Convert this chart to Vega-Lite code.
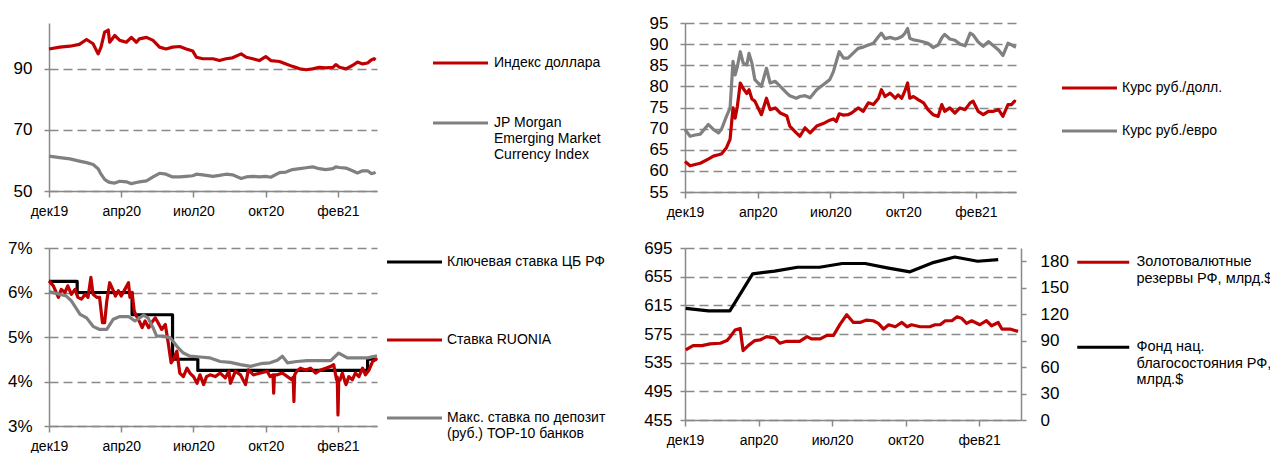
{
  "$schema": "https://vega.github.io/schema/vega-lite/v6.json",
  "background": "white",
  "padding": {"left": 7, "top": 14, "right": 0, "bottom": 0},
  "columns": 2,
  "spacing": {"row": 56, "column": 308},
  "bounds": "flush",
  "resolve": {"scale": {"x": "independent", "y": "independent", "color": "independent"}, "legend": {"color": "independent"}},
  "config": {
    "font": "Liberation Sans",
    "view": {"stroke": null},
    "axis": {"title": null, "domainColor": "#898989", "domainWidth": 1.5, "tickColor": "#898989", "tickWidth": 1.5, "labelColor": "#000000", "labelFont": "Liberation Sans", "gridColor": "#898989", "gridDash": [9, 5], "gridWidth": 1.5, "labelOverlap": false},
    "axisX": {"labelFontSize": 14, "tickSize": 6, "labelPadding": 7, "grid": false, "labelFlush": false},
    "axisY": {"labelFontSize": 17, "tickSize": 5, "labelPadding": 12, "grid": true, "tickCount": 20},
    "legend": {"title": null, "orient": "none", "direction": "vertical", "labelFont": "Liberation Sans", "labelFontSize": 14, "labelColor": "#000000", "labelBaseline": "top", "labelLimit": 400, "symbolSize": 100, "symbolStrokeWidth": 3.5, "padding": 0},
    "line": {"strokeWidth": 3.2, "strokeJoin": "round"}
  },
  "datasets": {
    "key": [
      {"d": "2019-12-31", "v": 6.25}, {"d": "2020-02-08", "v": 6.0}, {"d": "2020-04-24", "v": 5.5}, {"d": "2020-06-19", "v": 4.5}, {"d": "2020-07-24", "v": 4.25}, {"d": "2021-03-16", "v": 4.5}, {"d": "2021-03-29", "v": 4.5}
    ],
    "ruonia": [
      {"d": "2019-12-31", "v": 6.26}, {"d": "2020-01-06", "v": 6.15}, {"d": "2020-01-13", "v": 5.89}, {"d": "2020-01-17", "v": 6.07}, {"d": "2020-01-22", "v": 6.0}, {"d": "2020-01-26", "v": 6.15}, {"d": "2020-01-31", "v": 5.96}, {"d": "2020-02-05", "v": 6.07}, {"d": "2020-02-09", "v": 5.89}, {"d": "2020-02-14", "v": 5.85}, {"d": "2020-02-19", "v": 5.96}, {"d": "2020-02-23", "v": 5.89}, {"d": "2020-02-27", "v": 6.34}, {"d": "2020-03-01", "v": 5.96}, {"d": "2020-03-06", "v": 5.89}, {"d": "2020-03-10", "v": 5.89}, {"d": "2020-03-14", "v": 5.32}, {"d": "2020-03-17", "v": 5.32}, {"d": "2020-03-20", "v": 5.81}, {"d": "2020-03-24", "v": 6.22}, {"d": "2020-03-29", "v": 6.04}, {"d": "2020-04-01", "v": 5.92}, {"d": "2020-04-05", "v": 6.04}, {"d": "2020-04-09", "v": 5.92}, {"d": "2020-04-14", "v": 6.07}, {"d": "2020-04-19", "v": 6.22}, {"d": "2020-04-21", "v": 5.89}, {"d": "2020-04-24", "v": 6.0}, {"d": "2020-04-27", "v": 5.58}, {"d": "2020-04-30", "v": 5.47}, {"d": "2020-05-05", "v": 5.32}, {"d": "2020-05-08", "v": 5.21}, {"d": "2020-05-12", "v": 5.36}, {"d": "2020-05-17", "v": 5.21}, {"d": "2020-05-21", "v": 5.32}, {"d": "2020-05-26", "v": 5.43}, {"d": "2020-05-30", "v": 5.32}, {"d": "2020-06-04", "v": 5.17}, {"d": "2020-06-09", "v": 5.28}, {"d": "2020-06-13", "v": 4.87}, {"d": "2020-06-17", "v": 4.42}, {"d": "2020-06-20", "v": 4.49}, {"d": "2020-06-25", "v": 4.68}, {"d": "2020-06-29", "v": 4.19}, {"d": "2020-07-04", "v": 4.11}, {"d": "2020-07-09", "v": 4.3}, {"d": "2020-07-13", "v": 4.19}, {"d": "2020-07-18", "v": 4.11}, {"d": "2020-07-23", "v": 3.96}, {"d": "2020-07-27", "v": 4.15}, {"d": "2020-08-01", "v": 3.93}, {"d": "2020-08-05", "v": 4.11}, {"d": "2020-08-10", "v": 4.15}, {"d": "2020-08-17", "v": 4.11}, {"d": "2020-08-24", "v": 4.19}, {"d": "2020-08-31", "v": 4.08}, {"d": "2020-09-05", "v": 4.23}, {"d": "2020-09-07", "v": 3.96}, {"d": "2020-09-14", "v": 4.23}, {"d": "2020-09-21", "v": 4.15}, {"d": "2020-09-28", "v": 3.93}, {"d": "2020-10-02", "v": 4.26}, {"d": "2020-10-09", "v": 4.15}, {"d": "2020-10-19", "v": 4.19}, {"d": "2020-10-28", "v": 4.23}, {"d": "2020-11-01", "v": 4.11}, {"d": "2020-11-05", "v": 4.15}, {"d": "2020-11-06", "v": 3.74}, {"d": "2020-11-07", "v": 4.15}, {"d": "2020-11-11", "v": 4.15}, {"d": "2020-11-18", "v": 4.19}, {"d": "2020-11-25", "v": 4.11}, {"d": "2020-12-01", "v": 4.04}, {"d": "2020-12-03", "v": 4.1}, {"d": "2020-12-04", "v": 3.55}, {"d": "2020-12-05", "v": 4.15}, {"d": "2020-12-08", "v": 4.23}, {"d": "2020-12-13", "v": 4.3}, {"d": "2020-12-20", "v": 4.26}, {"d": "2020-12-27", "v": 4.3}, {"d": "2021-01-03", "v": 4.19}, {"d": "2021-01-10", "v": 4.26}, {"d": "2021-01-17", "v": 4.3}, {"d": "2021-01-24", "v": 4.34}, {"d": "2021-01-28", "v": 4.38}, {"d": "2021-02-01", "v": 4.04}, {"d": "2021-02-02", "v": 4.1}, {"d": "2021-02-03", "v": 3.25}, {"d": "2021-02-04", "v": 4.0}, {"d": "2021-02-06", "v": 4.04}, {"d": "2021-02-09", "v": 4.19}, {"d": "2021-02-14", "v": 3.93}, {"d": "2021-02-18", "v": 4.11}, {"d": "2021-02-23", "v": 4.04}, {"d": "2021-02-27", "v": 4.19}, {"d": "2021-03-04", "v": 4.11}, {"d": "2021-03-09", "v": 4.3}, {"d": "2021-03-13", "v": 4.15}, {"d": "2021-03-18", "v": 4.26}, {"d": "2021-03-23", "v": 4.45}, {"d": "2021-03-27", "v": 4.49}, {"d": "2021-03-29", "v": 4.53}
    ],
    "dep": [
      {"d": "2019-12-31", "v": 6.02}, {"d": "2020-01-10", "v": 5.98}, {"d": "2020-01-24", "v": 5.92}, {"d": "2020-01-31", "v": 5.81}, {"d": "2020-02-12", "v": 5.51}, {"d": "2020-02-21", "v": 5.43}, {"d": "2020-03-01", "v": 5.24}, {"d": "2020-03-10", "v": 5.17}, {"d": "2020-03-20", "v": 5.17}, {"d": "2020-03-29", "v": 5.4}, {"d": "2020-04-07", "v": 5.46}, {"d": "2020-04-19", "v": 5.46}, {"d": "2020-04-28", "v": 5.36}, {"d": "2020-05-10", "v": 5.49}, {"d": "2020-05-16", "v": 5.43}, {"d": "2020-05-23", "v": 5.21}, {"d": "2020-05-28", "v": 5.02}, {"d": "2020-06-06", "v": 5.02}, {"d": "2020-06-16", "v": 4.98}, {"d": "2020-06-25", "v": 4.79}, {"d": "2020-07-04", "v": 4.64}, {"d": "2020-07-13", "v": 4.57}, {"d": "2020-07-27", "v": 4.55}, {"d": "2020-08-10", "v": 4.53}, {"d": "2020-08-24", "v": 4.45}, {"d": "2020-09-07", "v": 4.43}, {"d": "2020-09-21", "v": 4.38}, {"d": "2020-10-05", "v": 4.34}, {"d": "2020-10-19", "v": 4.4}, {"d": "2020-11-01", "v": 4.42}, {"d": "2020-11-11", "v": 4.48}, {"d": "2020-11-18", "v": 4.57}, {"d": "2020-11-25", "v": 4.42}, {"d": "2020-12-08", "v": 4.45}, {"d": "2020-12-22", "v": 4.47}, {"d": "2021-01-05", "v": 4.47}, {"d": "2021-01-24", "v": 4.47}, {"d": "2021-02-04", "v": 4.64}, {"d": "2021-02-16", "v": 4.53}, {"d": "2021-03-02", "v": 4.53}, {"d": "2021-03-16", "v": 4.53}, {"d": "2021-03-29", "v": 4.58}
    ],
    "res": [
      {"d": "2020-01-01", "v": 552.8}, {"d": "2020-01-11", "v": 558.8}, {"d": "2020-01-23", "v": 558.8}, {"d": "2020-02-03", "v": 561.2}, {"d": "2020-02-17", "v": 562.1}, {"d": "2020-02-26", "v": 565.8}, {"d": "2020-03-01", "v": 570.4}, {"d": "2020-03-08", "v": 580.5}, {"d": "2020-03-15", "v": 582.8}, {"d": "2020-03-19", "v": 551.9}, {"d": "2020-03-26", "v": 558.8}, {"d": "2020-04-04", "v": 565.8}, {"d": "2020-04-11", "v": 566.7}, {"d": "2020-04-20", "v": 571.3}, {"d": "2020-05-01", "v": 569.5}, {"d": "2020-05-08", "v": 562.1}, {"d": "2020-05-17", "v": 564.8}, {"d": "2020-06-04", "v": 564.8}, {"d": "2020-06-14", "v": 571.3}, {"d": "2020-06-20", "v": 568.1}, {"d": "2020-07-02", "v": 568.1}, {"d": "2020-07-11", "v": 573.1}, {"d": "2020-07-20", "v": 573.1}, {"d": "2020-07-29", "v": 588.8}, {"d": "2020-08-07", "v": 601.8}, {"d": "2020-08-16", "v": 591.1}, {"d": "2020-08-25", "v": 591.1}, {"d": "2020-09-03", "v": 594.4}, {"d": "2020-09-12", "v": 593.5}, {"d": "2020-09-19", "v": 589.8}, {"d": "2020-09-26", "v": 581.9}, {"d": "2020-10-03", "v": 587.9}, {"d": "2020-10-12", "v": 585.1}, {"d": "2020-10-21", "v": 591.1}, {"d": "2020-10-28", "v": 585.1}, {"d": "2020-11-03", "v": 587.9}, {"d": "2020-11-15", "v": 585.1}, {"d": "2020-11-28", "v": 585.1}, {"d": "2020-12-05", "v": 587.9}, {"d": "2020-12-12", "v": 587.9}, {"d": "2020-12-19", "v": 593.5}, {"d": "2020-12-28", "v": 593.5}, {"d": "2021-01-04", "v": 599.0}, {"d": "2021-01-10", "v": 597.1}, {"d": "2021-01-17", "v": 589.8}, {"d": "2021-01-24", "v": 593.5}, {"d": "2021-02-04", "v": 587.9}, {"d": "2021-02-13", "v": 593.5}, {"d": "2021-02-20", "v": 586.5}, {"d": "2021-03-01", "v": 591.1}, {"d": "2021-03-06", "v": 581.9}, {"d": "2021-03-17", "v": 581.9}, {"d": "2021-03-28", "v": 578.7}
    ],
    "fnb": [
      {"d": "2020-01-01", "v": 126.5}, {"d": "2020-02-01", "v": 123.7}, {"d": "2020-03-01", "v": 123.7}, {"d": "2020-04-01", "v": 165.7}, {"d": "2020-05-01", "v": 168.7}, {"d": "2020-06-01", "v": 173.2}, {"d": "2020-07-01", "v": 173.2}, {"d": "2020-08-01", "v": 177.4}, {"d": "2020-09-01", "v": 177.4}, {"d": "2020-10-01", "v": 172.5}, {"d": "2020-11-01", "v": 168.0}, {"d": "2020-12-01", "v": 178.1}, {"d": "2021-01-01", "v": 184.8}, {"d": "2021-02-01", "v": 180.0}, {"d": "2021-03-01", "v": 181.9}
    ]
  },
  "concat": [
    {
      "width": 328, "height": 168,
      "data": {"values": [
        {"d": "2019-12-31", "usd": 96.5, "em": 61.4}, {"d": "2020-01-15", "usd": 97.1, "em": 60.9}, {"d": "2020-01-29", "usd": 97.4, "em": 60.5}, {"d": "2020-02-11", "usd": 98.0, "em": 59.8}, {"d": "2020-02-21", "usd": 99.6, "em": 59.3}, {"d": "2020-03-01", "usd": 98.2, "em": 58.7}, {"d": "2020-03-08", "usd": 94.9, "em": 57.3}, {"d": "2020-03-12", "usd": 97.1, "em": 55.5}, {"d": "2020-03-17", "usd": 102.0, "em": 53.8}, {"d": "2020-03-22", "usd": 102.7, "em": 53.0}, {"d": "2020-03-24", "usd": 98.7, "em": 52.8}, {"d": "2020-03-31", "usd": 100.9, "em": 52.6}, {"d": "2020-04-07", "usd": 99.3, "em": 53.2}, {"d": "2020-04-16", "usd": 98.7, "em": 53.0}, {"d": "2020-04-23", "usd": 100.3, "em": 52.4}, {"d": "2020-04-30", "usd": 98.7, "em": 52.8}, {"d": "2020-05-04", "usd": 99.8, "em": 53.0}, {"d": "2020-05-14", "usd": 100.3, "em": 53.3}, {"d": "2020-05-23", "usd": 99.3, "em": 54.6}, {"d": "2020-06-01", "usd": 97.1, "em": 55.8}, {"d": "2020-06-10", "usd": 96.5, "em": 55.5}, {"d": "2020-06-19", "usd": 97.1, "em": 54.6}, {"d": "2020-06-29", "usd": 97.3, "em": 54.6}, {"d": "2020-07-08", "usd": 96.5, "em": 54.8}, {"d": "2020-07-17", "usd": 95.8, "em": 55.0}, {"d": "2020-07-22", "usd": 93.8, "em": 55.5}, {"d": "2020-07-31", "usd": 93.3, "em": 55.3}, {"d": "2020-08-14", "usd": 93.3, "em": 54.8}, {"d": "2020-08-23", "usd": 92.7, "em": 55.1}, {"d": "2020-09-01", "usd": 93.3, "em": 55.5}, {"d": "2020-09-10", "usd": 93.6, "em": 55.3}, {"d": "2020-09-22", "usd": 94.9, "em": 54.1}, {"d": "2020-09-29", "usd": 93.8, "em": 54.6}, {"d": "2020-10-08", "usd": 93.3, "em": 54.8}, {"d": "2020-10-17", "usd": 92.7, "em": 54.6}, {"d": "2020-10-26", "usd": 94.0, "em": 54.8}, {"d": "2020-11-02", "usd": 92.7, "em": 54.5}, {"d": "2020-11-14", "usd": 92.4, "em": 56.0}, {"d": "2020-11-23", "usd": 91.6, "em": 56.2}, {"d": "2020-12-02", "usd": 90.8, "em": 57.0}, {"d": "2020-12-12", "usd": 90.0, "em": 57.3}, {"d": "2020-12-21", "usd": 89.7, "em": 57.6}, {"d": "2020-12-30", "usd": 90.0, "em": 57.9}, {"d": "2021-01-08", "usd": 90.5, "em": 57.3}, {"d": "2021-01-17", "usd": 90.3, "em": 57.0}, {"d": "2021-01-27", "usd": 90.5, "em": 57.3}, {"d": "2021-01-31", "usd": 91.4, "em": 57.9}, {"d": "2021-02-05", "usd": 90.5, "em": 57.7}, {"d": "2021-02-14", "usd": 90.0, "em": 57.5}, {"d": "2021-02-23", "usd": 91.1, "em": 56.6}, {"d": "2021-03-02", "usd": 92.2, "em": 55.9}, {"d": "2021-03-09", "usd": 91.6, "em": 56.6}, {"d": "2021-03-16", "usd": 91.9, "em": 56.6}, {"d": "2021-03-21", "usd": 92.9, "em": 55.7}, {"d": "2021-03-25", "usd": 93.3, "em": 55.9}, {"d": "2021-03-27", "usd": 92.9, "em": 56.2}
      ]},
      "encoding": {
        "x": {"field": "d", "type": "temporal", "scale": {"type": "utc", "domain": [{"year": 2019, "month": 12, "date": 31, "utc": true}, {"year": 2021, "month": 3, "date": 29, "utc": true}]}, "axis": {"values": [{"year": 2019, "month": 12, "date": 31, "utc": true}, {"year": 2020, "month": 4, "date": 9, "utc": true}, {"year": 2020, "month": 7, "date": 18, "utc": true}, {"year": 2020, "month": 10, "date": 26, "utc": true}, {"year": 2021, "month": 2, "date": 3, "utc": true}], "labelExpr": "['янв','фев','мар','апр','май','июн','июл','авг','сен','окт','ноя','дек'][utcmonth(datum.value)] + utcFormat(datum.value, '%y')"}}
      },
      "layer": [
        {"mark": "line", "encoding": {
          "y": {"field": "usd", "type": "quantitative", "scale": {"domain": [50, 105], "nice": false, "zero": false}, "axis": {"values": [50, 70, 90]}},
          "color": {"datum": "usd", "type": "nominal", "scale": {"domain": ["usd", "em"], "range": ["#C00000", "#808080"]}, "legend": {"legendX": 377, "legendY": 26, "labelOffset": 54, "rowPadding": 39, "symbolType": "M0,1.4H11", "labelExpr": "datum.label == 'usd' ? 'Индекс доллара' : ['JP Morgan', 'Emerging Market', 'Currency Index']"}}
        }},
        {"mark": "line", "encoding": {
          "y": {"field": "em", "type": "quantitative", "scale": {"domain": [50, 105], "nice": false, "zero": false}},
          "color": {"datum": "em", "type": "nominal", "scale": {"domain": ["usd", "em"], "range": ["#C00000", "#808080"]}}
        }}
      ]
    },
    {
      "width": 331, "height": 169,
      "data": {"values": [
        {"d": "2019-12-31", "a": 62.2, "b": 69.8}, {"d": "2020-01-07", "a": 61.2, "b": 68.2}, {"d": "2020-01-14", "a": 61.5, "b": 68.5}, {"d": "2020-01-21", "a": 61.8, "b": 68.7}, {"d": "2020-02-01", "a": 62.8, "b": 71.0}, {"d": "2020-02-08", "a": 63.5, "b": 69.8}, {"d": "2020-02-15", "a": 63.8, "b": 69.0}, {"d": "2020-02-19", "a": 64.0, "b": 69.8}, {"d": "2020-02-26", "a": 65.5, "b": 72.9}, {"d": "2020-03-02", "a": 67.5, "b": 74.9}, {"d": "2020-03-06", "a": 74.9, "b": 85.9}, {"d": "2020-03-09", "a": 72.5, "b": 82.7}, {"d": "2020-03-12", "a": 75.3, "b": 84.7}, {"d": "2020-03-16", "a": 80.8, "b": 88.2}, {"d": "2020-03-20", "a": 79.5, "b": 85.5}, {"d": "2020-03-25", "a": 78.3, "b": 85.1}, {"d": "2020-03-28", "a": 79.2, "b": 87.8}, {"d": "2020-04-01", "a": 77.0, "b": 85.5}, {"d": "2020-04-05", "a": 76.5, "b": 81.6}, {"d": "2020-04-14", "a": 73.3, "b": 80.0}, {"d": "2020-04-21", "a": 77.2, "b": 84.3}, {"d": "2020-04-26", "a": 74.5, "b": 80.8}, {"d": "2020-05-03", "a": 74.9, "b": 81.2}, {"d": "2020-05-10", "a": 73.7, "b": 80.0}, {"d": "2020-05-19", "a": 73.0, "b": 78.4}, {"d": "2020-05-23", "a": 70.6, "b": 77.8}, {"d": "2020-06-01", "a": 69.0, "b": 77.2}, {"d": "2020-06-06", "a": 68.2, "b": 77.6}, {"d": "2020-06-13", "a": 70.2, "b": 77.8}, {"d": "2020-06-20", "a": 69.0, "b": 77.3}, {"d": "2020-06-29", "a": 70.6, "b": 79.2}, {"d": "2020-07-08", "a": 71.2, "b": 80.4}, {"d": "2020-07-17", "a": 72.0, "b": 81.6}, {"d": "2020-07-22", "a": 72.3, "b": 83.5}, {"d": "2020-07-26", "a": 71.7, "b": 85.9}, {"d": "2020-07-30", "a": 73.5, "b": 88.2}, {"d": "2020-08-05", "a": 73.2, "b": 86.7}, {"d": "2020-08-11", "a": 73.3, "b": 86.7}, {"d": "2020-08-16", "a": 73.7, "b": 87.5}, {"d": "2020-08-25", "a": 74.9, "b": 89.0}, {"d": "2020-09-01", "a": 74.1, "b": 89.3}, {"d": "2020-09-08", "a": 76.1, "b": 89.8}, {"d": "2020-09-15", "a": 75.7, "b": 90.2}, {"d": "2020-09-22", "a": 77.2, "b": 91.8}, {"d": "2020-09-26", "a": 79.2, "b": 92.6}, {"d": "2020-10-01", "a": 77.6, "b": 91.3}, {"d": "2020-10-08", "a": 78.4, "b": 91.6}, {"d": "2020-10-15", "a": 77.2, "b": 91.2}, {"d": "2020-10-19", "a": 78.0, "b": 91.4}, {"d": "2020-10-24", "a": 77.2, "b": 91.8}, {"d": "2020-10-28", "a": 78.8, "b": 92.5}, {"d": "2020-11-01", "a": 80.8, "b": 93.7}, {"d": "2020-11-04", "a": 77.2, "b": 91.4}, {"d": "2020-11-09", "a": 77.6, "b": 91.0}, {"d": "2020-11-16", "a": 76.8, "b": 90.8}, {"d": "2020-11-23", "a": 76.1, "b": 90.5}, {"d": "2020-11-29", "a": 74.5, "b": 90.2}, {"d": "2020-12-06", "a": 73.3, "b": 89.2}, {"d": "2020-12-13", "a": 72.9, "b": 89.8}, {"d": "2020-12-18", "a": 75.7, "b": 91.5}, {"d": "2020-12-22", "a": 74.1, "b": 92.3}, {"d": "2020-12-29", "a": 74.9, "b": 91.2}, {"d": "2021-01-05", "a": 73.7, "b": 90.9}, {"d": "2021-01-12", "a": 74.9, "b": 90.0}, {"d": "2021-01-19", "a": 74.5, "b": 89.6}, {"d": "2021-01-26", "a": 76.1, "b": 92.6}, {"d": "2021-01-30", "a": 76.5, "b": 92.2}, {"d": "2021-02-06", "a": 74.1, "b": 90.5}, {"d": "2021-02-13", "a": 73.3, "b": 89.5}, {"d": "2021-02-20", "a": 74.1, "b": 90.6}, {"d": "2021-02-27", "a": 74.1, "b": 89.6}, {"d": "2021-03-06", "a": 74.5, "b": 88.6}, {"d": "2021-03-12", "a": 72.9, "b": 87.3}, {"d": "2021-03-19", "a": 75.7, "b": 90.2}, {"d": "2021-03-24", "a": 75.7, "b": 89.8}, {"d": "2021-03-28", "a": 76.5, "b": 89.4}, {"d": "2021-03-30", "a": 76.4, "b": 89.3}
      ]},
      "encoding": {
        "x": {"field": "d", "type": "temporal", "scale": {"type": "utc", "domain": [{"year": 2019, "month": 12, "date": 31, "utc": true}, {"year": 2021, "month": 3, "date": 30, "utc": true}]}, "axis": {"values": [{"year": 2019, "month": 12, "date": 31, "utc": true}, {"year": 2020, "month": 4, "date": 9, "utc": true}, {"year": 2020, "month": 7, "date": 18, "utc": true}, {"year": 2020, "month": 10, "date": 26, "utc": true}, {"year": 2021, "month": 2, "date": 3, "utc": true}], "labelExpr": "['янв','фев','мар','апр','май','июн','июл','авг','сен','окт','ноя','дек'][utcmonth(datum.value)] + utcFormat(datum.value, '%y')"}}
      },
      "layer": [
        {"mark": "line", "encoding": {
          "y": {"field": "a", "type": "quantitative", "scale": {"domain": [55, 95], "nice": false, "zero": false}, "axis": {"values": [55, 60, 65, 70, 75, 80, 85, 90, 95], "tickCount": 20}},
          "color": {"datum": "rusd", "type": "nominal", "scale": {"domain": ["rusd", "reur"], "range": ["#C00000", "#808080"]}, "legend": {"legendX": 370, "legendY": 51, "labelOffset": 53, "rowPadding": 22, "symbolType": "M0,1.4H11", "labelExpr": "datum.label == 'rusd' ? 'Курс руб./долл.' : 'Курс руб./евро'"}}
        }},
        {"mark": "line", "encoding": {
          "y": {"field": "b", "type": "quantitative", "scale": {"domain": [55, 95], "nice": false, "zero": false}},
          "color": {"datum": "reur", "type": "nominal", "scale": {"domain": ["rusd", "reur"], "range": ["#C00000", "#808080"]}}
        }}
      ]
    },
    {
      "width": 328, "height": 178,
      "encoding": {
        "x": {"field": "d", "type": "temporal", "scale": {"type": "utc", "domain": [{"year": 2019, "month": 12, "date": 31, "utc": true}, {"year": 2021, "month": 3, "date": 29, "utc": true}]}, "axis": {"values": [{"year": 2019, "month": 12, "date": 31, "utc": true}, {"year": 2020, "month": 4, "date": 9, "utc": true}, {"year": 2020, "month": 7, "date": 18, "utc": true}, {"year": 2020, "month": 10, "date": 26, "utc": true}, {"year": 2021, "month": 2, "date": 3, "utc": true}], "labelExpr": "['янв','фев','мар','апр','май','июн','июл','авг','сен','окт','ноя','дек'][utcmonth(datum.value)] + utcFormat(datum.value, '%y')"}}
      },
      "layer": [
        {"data": {"name": "key"}, "mark": {"type": "line", "interpolate": "step-after"}, "encoding": {
          "y": {"field": "v", "type": "quantitative", "scale": {"domain": [3, 7], "nice": false, "zero": false}, "axis": {"values": [3, 4, 5, 6, 7], "tickCount": 20, "labelExpr": "datum.value + '%'"}},
          "color": {"datum": "key", "type": "nominal", "scale": {"domain": ["key", "ruonia", "dep"], "range": ["#000000", "#C00000", "#808080"]}, "legend": {"legendX": 331, "legendY": 0, "labelOffset": 53, "rowPadding": 57, "symbolType": "M0,1.4H11", "labelExpr": "datum.label == 'key' ? 'Ключевая ставка ЦБ РФ' : datum.label == 'ruonia' ? 'Ставка RUONIA' : ['Макс. ставка по депозит', '(руб.) ТОР-10 банков']"}}
        }},
        {"data": {"name": "ruonia"}, "mark": "line", "encoding": {
          "y": {"field": "v", "type": "quantitative", "scale": {"domain": [3, 7], "nice": false, "zero": false}},
          "color": {"datum": "ruonia", "type": "nominal", "scale": {"domain": ["key", "ruonia", "dep"], "range": ["#000000", "#C00000", "#808080"]}}
        }},
        {"data": {"name": "dep"}, "mark": "line", "encoding": {
          "y": {"field": "v", "type": "quantitative", "scale": {"domain": [3, 7], "nice": false, "zero": false}},
          "color": {"datum": "dep", "type": "nominal", "scale": {"domain": ["key", "ruonia", "dep"], "range": ["#000000", "#C00000", "#808080"]}}
        }}
      ]
    },
    {
      "width": 336, "height": 172,
      "encoding": {
        "x": {"field": "d", "type": "temporal", "scale": {"type": "utc", "domain": [{"year": 2019, "month": 12, "date": 31, "utc": true}, {"year": 2021, "month": 4, "date": 1, "utc": true}]}, "axis": {"values": [{"year": 2019, "month": 12, "date": 31, "utc": true}, {"year": 2020, "month": 4, "date": 9, "utc": true}, {"year": 2020, "month": 7, "date": 18, "utc": true}, {"year": 2020, "month": 10, "date": 26, "utc": true}, {"year": 2021, "month": 2, "date": 3, "utc": true}], "labelExpr": "['янв','фев','мар','апр','май','июн','июл','авг','сен','окт','ноя','дек'][utcmonth(datum.value)] + utcFormat(datum.value, '%y')"}}
      },
      "layer": [
        {"data": {"name": "res"}, "mark": "line", "encoding": {
          "y": {"field": "v", "type": "quantitative", "scale": {"domain": [455, 695], "nice": false, "zero": false}, "axis": {"values": [455, 495, 535, 575, 615, 655, 695], "tickCount": 20, "labelPadding": 8}},
          "color": {"datum": "res", "type": "nominal", "scale": {"domain": ["res", "fnb"], "range": ["#C00000", "#000000"]}, "legend": {"legendX": 385, "legendY": 0, "labelOffset": 52, "rowPadding": 47, "labelFontSize": 14.5, "symbolType": "M0,1.4H10.4", "labelExpr": "datum.label == 'res' ? ['Золотовалютные', 'резервы РФ, млрд.$'] : ['Фонд нац.', 'благосостояния РФ,', 'млрд.$']", "encode": {"labels": {"lineHeight": {"value": 18}}}}}
        }},
        {"data": {"name": "fnb"}, "mark": "line", "encoding": {
          "y": {"field": "v", "type": "quantitative", "scale": {"domain": [0, 195], "nice": false, "zero": false}, "axis": {"orient": "right", "values": [0, 30, 60, 90, 120, 150, 180], "tickCount": 20, "grid": false, "labelPadding": 14}},
          "color": {"datum": "fnb", "type": "nominal", "scale": {"domain": ["res", "fnb"], "range": ["#C00000", "#000000"]}}
        }}
      ],
      "resolve": {"scale": {"y": "independent"}}
    }
  ]
}
